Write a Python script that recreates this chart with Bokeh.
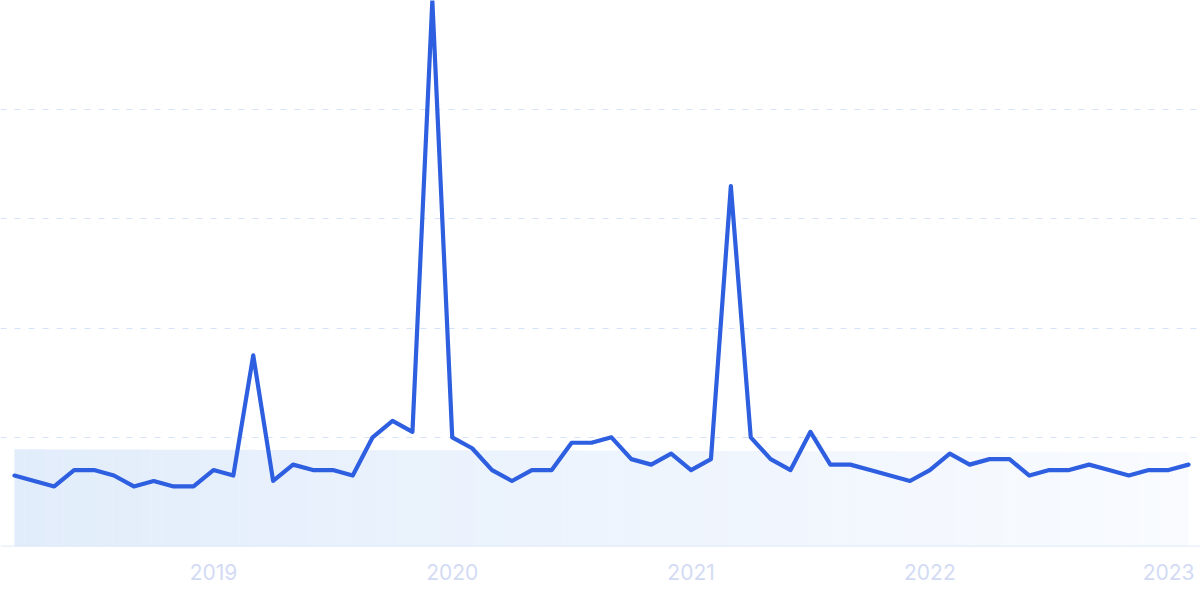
from bokeh.plotting import figure
from bokeh.models import FixedTicker, Span, Range1d
from bokeh.embed import file_html
from bokeh.resources import INLINE

# ---- data ----
months = [f"{y}-{m:02d}" for y, m in
          [(2018, m) for m in range(3, 13)] + [(y, m) for y in (2019, 2020, 2021, 2022) for m in range(1, 13)] + [(2023, 1), (2023, 2)]]
values = [13, 12, 11, 14, 14, 13, 11, 12, 11, 11,
          14, 13, 35, 12, 15, 14, 14, 13, 20, 23, 21, 100,
          20, 18, 14, 12, 14, 14, 19, 19, 20, 16, 15, 17,
          14, 16, 66, 20, 16, 14, 21, 15, 15, 14, 13, 12,
          14, 17, 15, 16, 16, 13, 14, 14, 15, 14, 13, 14,
          14, 15]
band_level = [17.8, 17.3]      # shaded reference band, start / end
grid_values = [20, 40, 60, 80, 100]
tick_labels = ["2019", "2020", "2021", "2022", "2023"]

x = list(range(len(values)))
tick_pos = [i for i, m in enumerate(months) if m.endswith("-01")]

W, H = 1200, 599
p = figure(width=W, height=H, output_backend="svg", toolbar_location=None,
           x_range=Range1d(-0.70, len(values) - 1 + 0.6),
           y_range=Range1d(0, 100),
           min_border_left=0, min_border_right=0, min_border_top=0,
           min_border_bottom=53)
p.outline_line_color = None
p.background_fill_color = "white"
p.border_fill_color = "white"

# gradient band built from thin strips
n = 120
x0, x1 = x[0], x[-1]
c0 = (226, 237, 251)
c1 = (249, 251, 255)
lefts, rights, tops, colors = [], [], [], []
for i in range(n):
    t = i / (n - 1)
    l = x0 + (x1 - x0) * i / n
    r = x0 + (x1 - x0) * (i + 1) / n
    lefts.append(l)
    rights.append(r + 0.02 if i < n - 1 else r)
    tops.append(band_level[0] + (band_level[1] - band_level[0]) * t)
    col = tuple(int(round(a + (b - a) * t)) for a, b in zip(c0, c1))
    colors.append("#%02x%02x%02x" % col)
p.quad(left=lefts, right=rights, bottom=0, top=tops, fill_color=colors, line_color=None)

# grid
p.xgrid.visible = False
p.ygrid.ticker = FixedTicker(ticks=grid_values)
p.ygrid.grid_line_color = "#d4e2fa"
p.ygrid.grid_line_dash = "6 8"
p.ygrid.grid_line_width = 1.2

p.add_layout(Span(location=0, dimension="width", line_color="#d4e4f7", line_width=1.5))

p.line(x, values, line_color="#2e5fe0", line_width=4.2, line_join="round", line_cap="round")

p.yaxis.visible = False
ax = p.xaxis[0]
ax.ticker = FixedTicker(ticks=tick_pos)
ax.major_label_overrides = {pos: lab for pos, lab in zip(tick_pos, tick_labels)}
ax.axis_line_color = None
ax.major_tick_line_color = None
ax.minor_tick_line_color = None
ax.major_label_text_color = "#d3dbf4"
ax.major_label_text_font = "Inter"
ax.major_label_text_font_size = "21px"
ax.major_label_standoff = 11

open("out.html", "w").write(file_html(p, INLINE))
